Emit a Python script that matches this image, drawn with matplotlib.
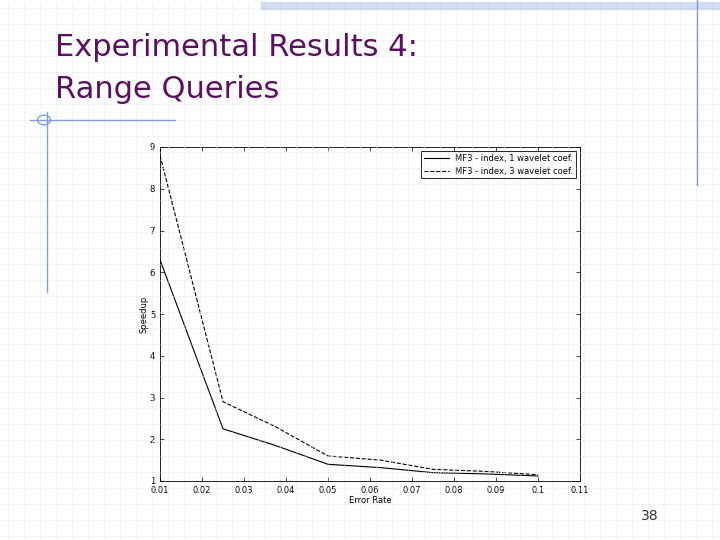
import matplotlib.pyplot as plt
from matplotlib.lines import Line2D

err = [0.01, 0.025, 0.0375, 0.05, 0.0625, 0.075, 0.0875, 0.1]
mf3_1 = [6.3, 2.25, 1.85, 1.4, 1.32, 1.2, 1.17, 1.12]
err2 = [0.01, 0.025, 0.0375, 0.05, 0.0625, 0.075, 0.0875, 0.1]
mf3_2 = [8.8, 2.9, 2.3, 1.6, 1.5, 1.28, 1.23, 1.15]
xticks = [0.01, 0.02, 0.03, 0.04, 0.05, 0.06, 0.07, 0.08, 0.09, 0.1, 0.11]
xlabels = ["0.01", "0.02", "0.03", "0.04", "0.05", "0.06", "0.07", "0.08", "0.09", "0.1", "0.11"]

fig = plt.figure(figsize=(7.2, 5.4), dpi=100)
W, H = 720, 540

# slide background grid
for x in range(8, W, 16):
    fig.add_artist(Line2D([x / W, x / W], [0, 1], color="#d8d8d8", lw=0.6, ls=(0, (1, 2))))
for y in range(8, H, 16):
    fig.add_artist(Line2D([0, 1], [1 - y / H, 1 - y / H], color="#d8d8d8", lw=0.6, ls=(0, (1, 2))))

# decorative lines
blue = "#7f9fd6"
fig.add_artist(Line2D([265 / W, 1], [1 - 6 / H] * 2, color=blue, lw=6, alpha=0.35))
fig.add_artist(Line2D([697 / W] * 2, [1 - 0 / H, 1 - 185 / H], color=blue, lw=1))
fig.add_artist(Line2D([47 / W] * 2, [1 - 112 / H, 1 - 292 / H], color=blue, lw=1))
fig.add_artist(Line2D([30 / W, 175 / W], [1 - 120 / H] * 2, color=blue, lw=1))
fig.add_artist(plt.Circle((44 / W, 1 - 120 / H), 0.009, transform=fig.transFigure,
                          fill=False, color=blue, lw=1))

fig.text(55 / W, 1 - 47 / H, "Experimental Results 4:", fontsize=22, color="#5a1060", va="center")
fig.text(55 / W, 1 - 90 / H, "Range Queries", fontsize=22, color="#5a1060", va="center")
fig.text(650 / W, 1 - 516 / H, "38", fontsize=10, color="#333333", ha="center", va="center")

ax = fig.add_axes([160 / W, 1 - 481 / H, 420 / W, 334 / H])
ax.plot(err, mf3_1, color="black", lw=0.8, label="MF3 - index, 1 wavelet coef.")
ax.plot(err2, mf3_2, color="black", lw=0.8, ls="--", label="MF3 - index, 3 wavelet coef.")
ax.set_xlim(0.01, 0.11)
ax.set_ylim(1, 9)
ax.set_xticks(xticks)
ax.set_xticklabels(xlabels)
ax.tick_params(labelsize=6, direction="in", top=True, right=True, length=3, width=0.5)
for s in ax.spines.values():
    s.set_linewidth(0.6)
ax.set_xlabel("Error Rate", fontsize=6, labelpad=1)
ax.set_ylabel("Speedup", fontsize=6, labelpad=1)
leg = ax.legend(loc="upper right", fontsize=6, fancybox=False, framealpha=1,
                edgecolor="black", borderpad=0.3, handlelength=3)
leg.get_frame().set_linewidth(0.6)

fig.savefig("out.png", dpi=100)
